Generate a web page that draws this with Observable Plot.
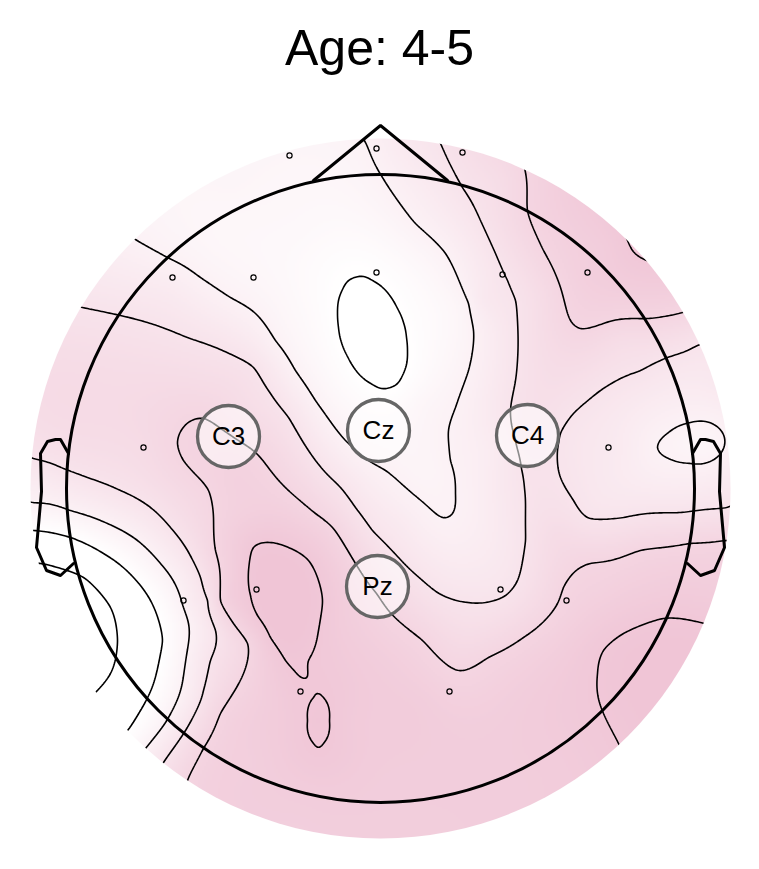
<!DOCTYPE html>
<html>
<head>
<meta charset="utf-8">
<script src="https://cdn.jsdelivr.net/npm/d3@7"></script>
<script src="https://cdn.jsdelivr.net/npm/@observablehq/plot@0.6"></script>
<style>
  html, body { margin: 0; padding: 0; background: #fff; }
  #title { width: 759px; height: 100px; box-sizing: border-box; padding-top: 23px; text-align: center;
           font: 50px/1 "Liberation Sans", Arial, sans-serif; color: #000; }
  #chart svg { display: block; }
</style>
</head>
<body>
<div id="title">Age: 4-5</div>
<div id="chart"></div>
<script>
// ---------- data (head-centred units, y up; head radius = 314) ----------
const headRadius = 314;
const diskRadius = 350;
const contourLevels = [1, 2, 3, 4, 5, 6];

// electrodes
const sensorX = [-91, -4, 82, -208, -127, -4, 122, 207, -237, 228, -197, -124, 120, 186, -80, 69];
const sensorY = [333, 340, 336, 211, 211, 216, 214, 216, 41, 41, -112, -101, -101, -112, -203, -203];
const labelNames = ["C3", "Cz", "C4", "Pz"];
const labelX = [-152, -2, 147, -3];
const labelY = [52, 58, 53, -98];

// field samples read along the iso-lines of the map: [x, y]
const lineA = [[-15,346],[2,311],[35,265],[65,235],[88,185],[93,158],[88,118],[75,81],[68,58],[70,28],[75,-5],[72,-25],[62,-29],[32,-5],[5,18],[-12,28],[-35,48],[-45,60],[-65,88],[-85,118],[-105,148],[-125,175],[-150,191],[-180,211],[-213,231],[-245,249]];
const ellipseTop = [[10,101],[17,105],[22,113],[26,124],[27,137],[26,151],[23,166],[17,180],[10,192],[1,202],[-8,208],[-17,212],[-26,211],[-33,207],[-38,199],[-42,188],[-43,175],[-42,161],[-39,146],[-33,132],[-26,120],[-17,110],[-8,104],[1,100]];
const lineB = [[60,345],[82,301],[100,268],[115,235],[127,208],[135,188],[137,128],[135,108],[130,78],[134,52],[141,20],[144,0],[145,-22],[145,-52],[137,-92],[125,-107],[110,-113],[88,-114],[57,-104],[42,-92],[18,-69],[-8,-42],[-25,-19],[-40,1],[-55,16],[-72,38],[-92,71],[-110,95],[-127,121],[-143,131],[-170,143],[-193,151],[-230,165],[-260,173],[-298,181]];
const lineD = [[-193,-292],[-177,-260],[-160,-225],[-137,-185],[-133,-155],[-147,-135],[-160,-112],[-165,-62],[-167,-29],[-172,-2],[-185,14],[-197,28],[-203,45],[-198,60],[-177,70],[-151,54],[-125,36],[-110,18],[-92,-2],[-65,-25],[-48,-39],[-25,-75],[-4,-105],[8,-122],[42,-152],[78,-182],[108,-169],[143,-149],[177,-115],[183,-99],[210,-75],[260,-62],[310,-55],[346,-52]];
const line1 = [[-347,30],[-317,20],[-293,11],[-260,-2],[-230,-19],[-210,-39],[-193,-62],[-180,-89],[-173,-112],[-165,-142],[-170,-172],[-177,-202],[-195,-242],[-217,-274]];
const line2 = [[-348,-14],[-310,-22],[-273,-35],[-243,-52],[-220,-75],[-200,-109],[-192,-135],[-194,-167],[-200,-202],[-215,-234],[-235,-260]];
const line3 = [[-347,-42],[-310,-49],[-277,-65],[-247,-89],[-230,-112],[-218,-152],[-227,-195],[-240,-222],[-253,-242]];
const line4 = [[-340,-75],[-323,-79],[-297,-89],[-280,-105],[-270,-119],[-263,-152],[-270,-185],[-285,-204]];
const blob = [[-127,-59],[-115,-54],[-92,-59],[-72,-72],[-62,-92],[-58,-112],[-62,-142],[-72,-172],[-82,-187],[-95,-172],[-110,-149],[-123,-127],[-130,-107],[-132,-82]];
const smallEllipse = [[-62,-205],[-57,-209],[-52,-218],[-51,-232],[-52,-246],[-57,-255],[-62,-259],[-67,-255],[-72,-246],[-73,-232],[-72,-218],[-67,-209]];
const lineE = [[145,316],[147,278],[163,238],[180,201],[190,168],[200,160],[220,164],[267,170],[302,176]];
const arcTopRight = [[247,248],[252,238],[260,231]];
const lineF = [[320,144],[307,138],[287,131],[260,118],[220,98],[193,75],[180,55],[177,38],[180,11],[193,-12],[207,-29],[243,-29],[300,-24],[346,-19]];
const ellipseRight = [[277,41],[288,56],[310,66],[335,63],[288,30],[310,25],[335,30]];
const arcBottomRight = [[238,-255],[223,-225],[217,-185],[223,-162],[243,-145],[283,-130],[320,-134]];
const traces = [lineA, ellipseTop, lineB, lineD, line1, line2, line3, line4, blob, smallEllipse, lineE, arcTopRight, lineF, ellipseRight, arcBottomRight];
const traceLevels = [3, 2, 4, 5, 4, 3, 2, 1, 6, 6, 5, 6, 4, 3, 6];

// field samples read inside the bands: x, y, value
const spotX = [-8, -68, 50, -80, 20, 40, -4, 50, -150, -80, -160, 100, 115, 100, 20, -130, -210, -275, 20, 50, -60,
  147, 170, 175, 160, 120, 100, 90, 40, 5, -110, -80, -135, -237, -280, -320, -180, 240, 270,
  240, 270, 270, 320, 345, 340,
  -130, -165, -145, -148, -40, 0, 40, 140, 0, -130, -120, 220, 270, 100, -80, 180, 335,
  -95, -62, -30, -94, 290, 220, 207, 180, 270, 265,
  -187, -188, -340, -330, -205, -240, -320, -310, -305, -270];
const spotY = [156, 172, 140, 258, 238, 88, 59, 18, 300, 335, 250, 188, 38, -72, -32, 148, 198, 218, 340, 298, 50,
  54, 108, -45, 190, 308, 335, -142, -117, -87, 58, 18, 78, 41, 88, 108, 108, 148, -42,
  38, 88, -2, 45, 5, 100,
  -22, 33, 8, -72, -132, -162, -212, -212, -282, -272, -212, -102, -102, -312, -322, -282, -90,
  -112, -232, -232, -232, -202, 238, 216, 288, 198, 253,
  -112, -205, 8, -30, -152, -152, -62, -152, -130, -225];
const spotV = [1.4, 2.35, 2.35, 2.5, 2.5, 2.6, 2.6, 2.8, 2.7, 2.7, 2.6, 3.5, 3.5, 3.5, 3.5, 3.5, 3.5, 3.5, 3.5, 3.5, 3.5,
  4.3, 4.4, 4.5, 4.5, 4.5, 4.5, 4.4, 4.45, 4.5, 4.5, 4.5, 4.5, 4.6, 4.6, 4.6, 4.5, 4.5, 4.5,
  3.5, 3.5, 3.5, 2.7, 3.6, 3.6,
  5.4, 5.15, 5.3, 5.5, 5.7, 5.5, 5.6, 5.6, 5.65, 5.5, 5.5, 5.3, 5.6, 5.6, 5.55, 5.7, 5.5,
  6.3, 6.1, 5.8, 5.8, 6.3, 5.6, 5.5, 5.5, 5.6, 6.2,
  3.5, 3.5, 3.5, 2.5, 2.5, 1.5, 1.5, 0.5, 0.6, 1.5];

// head outline pieces
const noseX = [-67, 0, 67];
const noseY = [308, 363, 308];
const earX = [312, 320, 325, 333, 340, 339, 344, 334, 320, 307];
const earY = [35, 49, 49, 47, 35, -3, -59, -82, -87, -75];

// ---------- tables ----------
const samples = [];
traces.forEach((t, k) => t.forEach(([x, y]) => samples.push({u: x, w: y, v: traceLevels[k]})));
spotX.forEach((x, i) => samples.push({u: x, w: spotY[i], v: spotV[i]}));
const sensors = sensorX.map((x, i) => ({u: x, w: sensorY[i]}));
const labels = labelNames.map((name, i) => ({name, u: labelX[i], w: labelY[i]}));
const nose = noseX.map((x, i) => ({u: x, w: noseY[i]}));
const earRight = earX.map((x, i) => ({u: x, w: earY[i]}));
const earLeft = earX.map((x, i) => ({u: -x, w: earY[i]}));
const centre = [{u: 0, w: 0}];

// thin-plate spline interpolator used by Plot's raster and contour marks
function thinPlateSpline(index, width, height, X, Y, V) {
  const s = Math.max(width, height);
  const P = [];
  for (const i of index) {
    const x = X[i], y = Y[i], v = +V[i];
    if (isFinite(x) && isFinite(y) && isFinite(v)) P.push([x / s, y / s, v]);
  }
  const n = P.length, N = n + 3;
  const A = [];
  for (let i = 0; i < N; i++) A.push(new Float64Array(N + 1));
  const K = (r2) => (r2 > 1e-12 ? 0.5 * r2 * Math.log(r2) : 0);
  for (let i = 0; i < n; i++) {
    for (let j = 0; j < n; j++) {
      const dx = P[i][0] - P[j][0], dy = P[i][1] - P[j][1];
      A[i][j] = K(dx * dx + dy * dy);
    }
    A[i][i] += 1e-7;
    A[i][n] = 1; A[i][n + 1] = P[i][0]; A[i][n + 2] = P[i][1];
    A[n][i] = 1; A[n + 1][i] = P[i][0]; A[n + 2][i] = P[i][1];
    A[i][N] = P[i][2];
  }
  for (let c = 0; c < N; c++) {
    let p = c;
    for (let r = c + 1; r < N; r++) if (Math.abs(A[r][c]) > Math.abs(A[p][c])) p = r;
    const tmp = A[c]; A[c] = A[p]; A[p] = tmp;
    const d = A[c][c];
    if (Math.abs(d) < 1e-15) continue;
    const Ac = A[c];
    for (let r = c + 1; r < N; r++) {
      const Ar = A[r];
      const f = Ar[c] / d;
      if (f === 0) continue;
      for (let k = c; k <= N; k++) Ar[k] -= f * Ac[k];
    }
  }
  const sol = new Float64Array(N);
  for (let r = N - 1; r >= 0; r--) {
    let sum = A[r][N];
    for (let k = r + 1; k < N; k++) sum -= A[r][k] * sol[k];
    sol[r] = Math.abs(A[r][r]) < 1e-15 ? 0 : sum / A[r][r];
  }
  const px = Float64Array.from(P, (q) => q[0]), py = Float64Array.from(P, (q) => q[1]);
  const a0 = sol[n], a1 = sol[n + 1], a2 = sol[n + 2];
  const out = new Float64Array(width * height);
  for (let j = 0, k = 0; j < height; j++) {
    const y = (j + 0.5) / s;
    for (let i = 0; i < width; i++, k++) {
      const x = (i + 0.5) / s;
      let v = a0 + a1 * x + a2 * y;
      for (let m = 0; m < n; m++) {
        const dx = x - px[m], dy = y - py[m], r2 = dx * dx + dy * dy;
        if (r2 > 1e-12) v += sol[m] * 0.5 * r2 * Math.log(r2);
      }
      out[k] = v;
    }
  }
  return out;
}

const bounds = {x1: -362, x2: 362, y1: -362, y2: 362};
const font = "Liberation Sans, Arial, Helvetica, sans-serif";

const plot = Plot.plot({
  width: 759,
  height: 769,
  margin: 0,
  x: {domain: [-380, 379], axis: null},
  y: {domain: [-381, 388], axis: null},
  color: {type: "linear", domain: [2, 6.2], range: ["#ffffff", "#f0c5d6"], clamp: true},
  style: {background: "white", fontFamily: font, overflow: "visible"},
  marks: [
    Plot.raster(samples, {x: "u", y: "w", fill: "v", interpolate: thinPlateSpline, ...bounds, pixelSize: 2}),
    Plot.contour(samples, {x: "u", y: "w", value: "v", interpolate: thinPlateSpline, ...bounds, pixelSize: 2,
      thresholds: contourLevels, stroke: "black", strokeWidth: 1.6, fill: "none"}),
    Plot.dot(centre, {x: "u", y: "w", r: headRadius, stroke: "black", strokeWidth: 3, fill: "none"}),
    Plot.line(nose, {x: "u", y: "w", stroke: "black", strokeWidth: 3, strokeLinejoin: "miter"}),
    Plot.line(earRight, {x: "u", y: "w", stroke: "black", strokeWidth: 3, curve: "linear"}),
    Plot.line(earLeft, {x: "u", y: "w", stroke: "black", strokeWidth: 3, curve: "linear"}),
    Plot.dot(sensors, {x: "u", y: "w", r: 2.6, stroke: "black", strokeWidth: 1.2, fill: "none"}),
    Plot.dot(labels, {x: "u", y: "w", r: 31, fill: "white", fillOpacity: 0.55, stroke: "#666666", strokeWidth: 3.3}),
    Plot.text(labels, {x: "u", y: "w", text: "name", fontSize: 26, fontFamily: font, fill: "black"})
  ]
});

// clip the coloured field and its iso-lines to the scalp disk
const ns = "http://www.w3.org/2000/svg";
const sx = plot.scale("x"), sy = plot.scale("y");
const defs = document.createElementNS(ns, "defs");
const clip = document.createElementNS(ns, "clipPath");
clip.setAttribute("id", "disk-clip");
const circ = document.createElementNS(ns, "circle");
circ.setAttribute("cx", sx.apply(0));
circ.setAttribute("cy", sy.apply(0));
circ.setAttribute("r", Math.abs(sx.apply(diskRadius) - sx.apply(0)));
clip.appendChild(circ);
defs.appendChild(clip);
plot.insertBefore(defs, plot.firstChild);
for (const g of plot.querySelectorAll('g[aria-label="raster"], g[aria-label="contour"]')) {
  g.setAttribute("clip-path", "url(#disk-clip)");
}
document.getElementById("chart").appendChild(plot);
</script>
</body>
</html>
